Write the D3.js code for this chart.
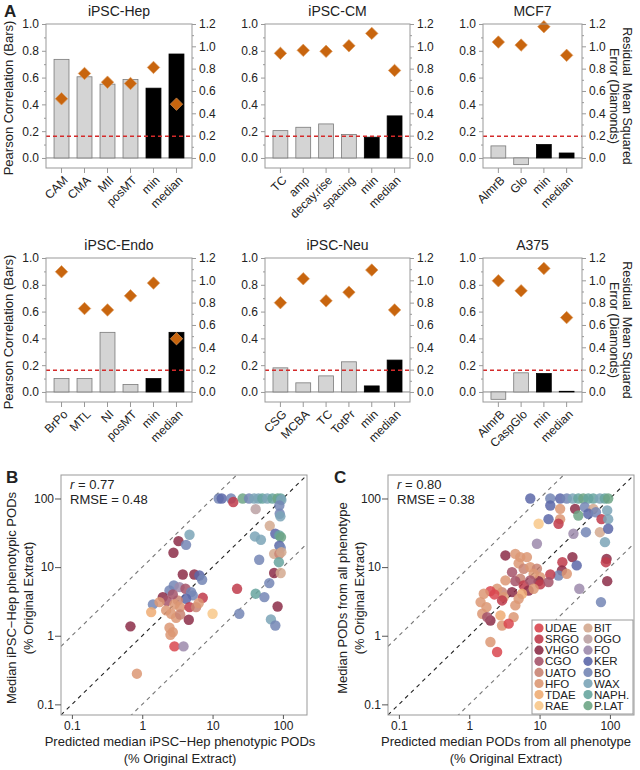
<!DOCTYPE html>
<html><head><meta charset="utf-8">
<script src="https://cdn.jsdelivr.net/npm/d3@7"></script>
<style>
body{margin:0;background:#fff}
text{font-family:"Liberation Sans",Arial,Helvetica,sans-serif;fill:#222}
</style>
</head><body>
<svg id="chart" width="640" height="770"></svg>
<script>
// ---------------- DATA ----------------
const corrThreshold = 0.162;

const hepCats = ["CAM","CMA","MII","posMT","min","median"];
const hepCorr = [0.736, 0.606, 0.551, 0.586, 0.521, 0.776];
const hepRmse = [0.53, 0.757, 0.679, 0.667, 0.811, 0.482];

const cmCats = ["TC","amp","decay.rise","spacing","min","median"];
const cmCorr = [0.204, 0.229, 0.254, 0.175, 0.155, 0.314];
const cmRmse = [0.937, 0.964, 0.955, 1.005, 1.116, 0.784];

const mcf7Cats = ["AlmrB","Glo","min","median"];
const mcf7Corr = [0.09, -0.05, 0.10, 0.037];
const mcf7Rmse = [1.038, 1.011, 1.176, 0.919];

const endoCats = ["BrPo","MTL","NI","posMT","min","median"];
const endoCorr = [0.10, 0.10, 0.445, 0.055, 0.10, 0.445];
const endoRmse = [1.077, 0.747, 0.735, 0.861, 0.975, 0.477];

const neuCats = ["CSG","MCBA","TC","TotPr","min","median"];
const neuCorr = [0.18, 0.068, 0.12, 0.225, 0.045, 0.238];
const neuRmse = [0.80, 1.014, 0.816, 0.894, 1.092, 0.735];

const a375Cats = ["AlmrB","CaspGlo","min","median"];
const a375Corr = [-0.055, 0.143, 0.138, 0.005];
const a375Rmse = [0.996, 0.906, 1.107, 0.666];

const corrTicks = [0, 0.2, 0.4, 0.6, 0.8, 1.0];
const rmseTicks = [0, 0.2, 0.4, 0.6, 0.8, 1.0, 1.2];
const logTicks = [0.1, 1, 10, 100];

const groupNames = ["UDAE","SRGO","VHGO","CGO","UATO","HFO","TDAE","RAE",
                    "BIT","OGO","FO","KER","BO","WAX","NAPH.","P.LAT"];
const groupColors = ["#d9464f","#bf3b4b","#8c2d48","#a5546a","#c98473","#dc9874","#eeac73","#f8c88a",
                     "#d4a98f","#bba1a3","#9c8aac","#5c67a8","#7486b5","#7ba4b7","#67a59f","#6da585"];

const statsB = {r:"0.77", rmse:"0.48"};
const statsC = {r:"0.80", rmse:"0.38"};

// [predicted, observed, group]
const scatterB = [
 [12.2,100,"BO"],[13.5,100,"KER"],[18.3,100,"BO"],[19.7,89,"SRGO"],[26.8,100,"P.LAT"],[33,100,"BO"],
 [39,100,"WAX"],[45,100,"WAX"],[51,100,"NAPH."],[41,70,"OGO"],[60,100,"WAX"],[71,100,"NAPH."],
 [84,100,"P.LAT"],[93,100,"NAPH."],[95,95,"WAX"],[89,79,"BO"],[90,60,"BO"],[92,55,"WAX"],
 [65,40,"BIT"],[78,30.6,"KER"],[89,28.9,"NAPH."],[94,27.4,"P.LAT"],[40,28,"WAX"],[48.7,25,"WAX"],
 [89,20.6,"KER"],[93,19.1,"BO"],[75,15.6,"BIT"],[89,15.6,"UATO"],[95,16.5,"BIT"],[87.6,11.8,"NAPH."],
 [46,12.8,"BO"],[75,8.2,"VHGO"],[93,8.2,"BIT"],[64,5.85,"BO"],[41,4.1,"NAPH."],[54.5,3.66,"BO"],
 [84,2.67,"VHGO"],[67.5,1.73,"WAX"],[78,1.41,"BO"],[24,2.09,"BO"],[22.3,4.83,"SRGO"],[10,2.09,"RAE"],
 [4.7,29.6,"WAX"],[3.28,23.9,"VHGO"],[4.2,21.1,"BO"],[2.78,16.2,"VHGO"],
 [3.77,7.8,"VHGO"],[5.5,7.8,"VHGO"],[6.5,7.56,"KER"],[7.1,6.54,"BO"],[2.81,5.41,"BO"],[2.44,4.57,"BO"],
 [3.39,5.11,"FO"],[4.12,4.84,"CGO"],[4.95,4.32,"BO"],[5.23,3.87,"BO"],[4.2,3.46,"KER"],[3.2,3.27,"UATO"],
 [1.96,3.66,"VHGO"],[2.24,3.2,"CGO"],[2.72,4.0,"CGO"],[1.42,2.86,"BO"],[1.76,3.09,"HFO"],[2.87,2.86,"HFO"],
 [3.46,2.61,"HFO"],[4.7,2.61,"SRGO"],[5.83,2.61,"UATO"],[7.25,3.57,"SRGO"],[6.36,2.99,"HFO"],
 [1.34,2.21,"TDAE"],[2.19,2.34,"HFO"],[2.58,2.09,"HFO"],[3.03,1.83,"HFO"],[3.46,2.04,"UATO"],
 [4.59,1.71,"VHGO"],[2.44,1.31,"HFO"],[2.72,1.13,"HFO"],[2.52,1.03,"HFO"],[0.68,1.37,"VHGO"],
 [2.87,0.70,"UDAE"],[3.86,0.70,"FO"],[0.84,0.28,"HFO"]
];

const scatterC = [
 [7.38,100,"KER"],[14.2,100,"BO"],[14.2,79,"KER"],[19.6,100,"KER"],[24.4,100,"BO"],[29.6,100,"WAX"],
 [35.6,100,"NAPH."],[41.9,100,"P.LAT"],[49.3,100,"NAPH."],[58,100,"NAPH."],[72,100,"WAX"],
 [84.6,100,"NAPH."],[94.5,100,"P.LAT"],[19.6,70.6,"HFO"],[32,70.6,"VHGO"],[44,74.8,"BO"],[58,70.6,"BIT"],
 [35.6,56.5,"P.LAT"],[49.3,60,"KER"],[63.2,63,"BO"],[76,50,"SRGO"],[94.5,50,"WAX"],[91.5,67,"WAX"],
 [13.4,50,"KER"],[19.6,50,"HFO"],[18.6,42.8,"SRGO"],[9.7,42.8,"RAE"],[30.3,30.6,"FO"],[45.6,32.3,"BO"],
 [72,32.3,"BIT"],[94.5,36.2,"KER"],[85,23.1,"WAX"],[9.17,21.9,"FO"],[89.7,13.2,"VHGO"],[87.6,11.8,"SRGO"],
 [29.3,14,"VHGO"],[33.7,10.6,"KER"],[21.1,11.8,"SRGO"],[20.8,8.94,"VHGO"],[18.6,7.56,"BO"],[24.4,8,"HFO"],
 [91.5,6.25,"VHGO"],[36.7,4.84,"FO"],[74.6,3.09,"BO"],
 [3.27,14.8,"VHGO"],[4.52,15.6,"HFO"],[5.32,14,"HFO"],[6.61,14,"HFO"],[5.04,11.4,"HFO"],[5.94,9.46,"UATO"],
 [7.37,10,"HFO"],[9.17,9.46,"UATO"],[10.2,7.15,"HFO"],[9.7,6.25,"VHGO"],[10.2,5.6,"SRGO"],[14.2,7.8,"SRGO"],
 [13.4,6.05,"CGO"],[8.24,8,"HFO"],[4.06,8.45,"CGO"],[5.32,6.76,"UATO"],[4.52,6.25,"CGO"],[3.27,6.4,"HFO"],
 [5.94,5.41,"SRGO"],[7.37,6.4,"CGO"],[6.98,4.57,"VHGO"],[8.24,4.84,"HFO"],[5.63,4.09,"TDAE"],
 [4.06,4.32,"VHGO"],[2.93,4.32,"UATO"],[2.49,4.84,"HFO"],[2.0,4.47,"UDAE"],[2.28,4.0,"UDAE"],
 [3.09,3.66,"HFO"],[5.04,3.46,"HFO"],[4.52,2.77,"HFO"],[2.93,3.27,"SRGO"],[1.61,4.09,"HFO"],
 [1.45,3.09,"HFO"],[1.76,2.61,"HFO"],[4.28,1.87,"HFO"],[2.78,1.98,"TDAE"],[1.53,2.09,"HFO"],
 [2.0,1.67,"VHGO"],[1.8,1.87,"CGO"],[2.93,1.41,"HFO"],[3.64,1.5,"UDAE"],[2.0,0.81,"HFO"],[2.49,0.58,"UDAE"]
];

// ---------------- DRAW ----------------
const svg = d3.select("#chart");
const color = d3.scaleOrdinal().domain(groupNames).range(groupColors);
const frameCol = "#999";

function barPanel(cfg) {
  const g = svg.append("g");
  const h = 144;
  const top = cfg.top, bottom = top + h;
  const yL = d3.scaleLinear().domain([-0.075, 1]).range([bottom, top]);
  const yR = d3.scaleLinear().domain([-0.09, 1.2]).range([bottom, top]);
  const x = d3.scaleBand().domain(cfg.cats).range([cfg.x0, cfg.x1]).paddingInner(0.35).paddingOuter(0.35);

  g.append("line").attr("x1", cfg.x0).attr("x2", cfg.x1)
    .attr("y1", yL(0)).attr("y2", yL(0)).attr("stroke", "#888").attr("stroke-width", 1);

  g.selectAll("rect.bar").data(cfg.cats).join("rect").attr("class","bar")
    .attr("x", d => x(d)).attr("width", x.bandwidth())
    .attr("y", (d,i) => yL(Math.max(0, cfg.corr[i])))
    .attr("height", (d,i) => Math.abs(yL(cfg.corr[i]) - yL(0)))
    .attr("fill", d => (d === "min" || d === "median") ? "#000" : "#d4d4d4")
    .attr("stroke", d => (d === "min" || d === "median") ? "#000" : "#7a7a7a")
    .attr("stroke-width", 0.8);

  g.append("line").attr("x1", cfg.x0).attr("x2", cfg.x1)
    .attr("y1", yL(corrThreshold)).attr("y2", yL(corrThreshold))
    .attr("stroke", "#d42a2a").attr("stroke-width", 1.6).attr("stroke-dasharray", "4,3");

  const sym = d3.symbol().type(d3.symbolSquare).size(78);
  g.selectAll("path.dia").data(cfg.cats).join("path").attr("class","dia")
    .attr("d", sym)
    .attr("transform", (d,i) => `translate(${x(d)+x.bandwidth()/2},${yR(cfg.rmse[i])}) rotate(45)`)
    .attr("fill", "#c8650e").attr("stroke", "#dc9a5e").attr("stroke-width", 0.6);

  g.append("rect").attr("x", cfg.x0).attr("y", top).attr("width", cfg.x1 - cfg.x0).attr("height", h)
    .attr("fill", "none").attr("stroke", frameCol).attr("stroke-width", 1);

  const la = g.append("g").attr("transform", `translate(${cfg.x0},0)`)
    .call(d3.axisLeft(yL).tickValues(corrTicks).tickFormat(d3.format(".1f")).tickSize(4).tickPadding(3));
  const lm = g.append("g").attr("transform", `translate(${cfg.x0},0)`)
    .call(d3.axisLeft(yL).tickValues([0.1,0.3,0.5,0.7,0.9]).tickFormat("").tickSize(2));
  const ra = g.append("g").attr("transform", `translate(${cfg.x1},0)`)
    .call(d3.axisRight(yR).tickValues(rmseTicks).tickFormat(d3.format(".1f")).tickSize(4).tickPadding(3));
  const rm = g.append("g").attr("transform", `translate(${cfg.x1},0)`)
    .call(d3.axisRight(yR).tickValues([0.1,0.3,0.5,0.7,0.9,1.1]).tickFormat("").tickSize(2));
  const ba = g.append("g").attr("transform", `translate(0,${bottom})`)
    .call(d3.axisBottom(x).tickSize(5));
  ba.selectAll("text").attr("x", 0).attr("y", 0).attr("dy", "0.35em")
    .attr("transform", "translate(4,10) rotate(-45)").style("text-anchor", "end");

  [la, lm, ra, rm, ba].forEach(a => {
    a.select(".domain").remove();
    a.selectAll(".tick line").attr("stroke", frameCol);
    a.selectAll("text").attr("font-size", 12).attr("fill", "#222")
      .attr("font-family", '"Liberation Sans",Arial,sans-serif');
  });

  g.append("text").attr("x", (cfg.x0 + cfg.x1) / 2).attr("y", top - 8.5)
    .attr("text-anchor", "middle").attr("font-size", 14).text(cfg.title);

  if (cfg.leftTitle) {
    g.append("text").attr("transform", `translate(13,${top + 74}) rotate(-90)`)
      .attr("text-anchor", "middle").attr("font-size", 13).text("Pearson Correlation (Bars)");
  }
  if (cfg.rightTitle) {
    const t = g.append("text").attr("transform", `translate(623,${top + 72}) rotate(90)`)
      .attr("text-anchor", "middle").attr("font-size", 12.5);
    t.append("tspan").attr("x", 0).attr("dy", 0).text("Residual\u00a0\u00a0Mean Squared");
    t.append("tspan").attr("x", 0).attr("dy", "1.05em").text("Error (Diamonds)");
  }
}

const rowTops = [24, 258];
const colX = [[46,192],[265,410],[483,582]];
barPanel({title:"iPSC-Hep", cats:hepCats, corr:hepCorr, rmse:hepRmse, x0:colX[0][0], x1:colX[0][1], top:rowTops[0], leftTitle:true});
barPanel({title:"iPSC-CM", cats:cmCats, corr:cmCorr, rmse:cmRmse, x0:colX[1][0], x1:colX[1][1], top:rowTops[0]});
barPanel({title:"MCF7", cats:mcf7Cats, corr:mcf7Corr, rmse:mcf7Rmse, x0:colX[2][0], x1:colX[2][1], top:rowTops[0], rightTitle:true});
barPanel({title:"iPSC-Endo", cats:endoCats, corr:endoCorr, rmse:endoRmse, x0:colX[0][0], x1:colX[0][1], top:rowTops[1], leftTitle:true});
barPanel({title:"iPSC-Neu", cats:neuCats, corr:neuCorr, rmse:neuRmse, x0:colX[1][0], x1:colX[1][1], top:rowTops[1]});
barPanel({title:"A375", cats:a375Cats, corr:a375Corr, rmse:a375Rmse, x0:colX[2][0], x1:colX[2][1], top:rowTops[1], rightTitle:true});

svg.append("text").attr("x", 4).attr("y", 17).attr("font-size", 17).attr("font-weight", "bold").text("A");

function scatterPanel(cfg) {
  const g = svg.append("g");
  const w = 246, h = 240;
  const xs = d3.scaleLog().domain([0.07, 220]).range([cfg.x0, cfg.x0 + w]);
  const ys = d3.scaleLog().domain([0.07, 220]).range([cfg.y0 + h, cfg.y0]);
  const clipId = "clip" + cfg.letter;
  svg.append("clipPath").attr("id", clipId).append("rect")
    .attr("x", cfg.x0).attr("y", cfg.y0).attr("width", w).attr("height", h);
  const inner = g.append("g").attr("clip-path", `url(#${clipId})`);
  const dom = xs.domain();
  [[10, "#777"], [0.1, "#777"], [1, "#222"]].forEach(([k, c]) => {
    inner.append("line")
      .attr("x1", xs(dom[0])).attr("y1", ys(dom[0] * k))
      .attr("x2", xs(dom[1])).attr("y2", ys(dom[1] * k))
      .attr("stroke", c).attr("stroke-width", 1.1).attr("stroke-dasharray", "4,4");
  });
  inner.selectAll("circle").data(cfg.data).join("circle")
    .attr("cx", d => xs(d[0])).attr("cy", d => ys(d[1])).attr("r", 5.2)
    .attr("fill", d => color(d[2])).attr("fill-opacity", 0.85);

  g.append("rect").attr("x", cfg.x0).attr("y", cfg.y0).attr("width", w).attr("height", h)
    .attr("fill", "none").attr("stroke", frameCol).attr("stroke-width", 1);

  const fmt = d => d3.format("~g")(d);
  const la = g.append("g").attr("transform", `translate(${cfg.x0},0)`)
    .call(d3.axisLeft(ys).tickValues(logTicks).tickFormat(fmt).tickSize(6).tickPadding(1));
  const ba = g.append("g").attr("transform", `translate(0,${cfg.y0 + h})`)
    .call(d3.axisBottom(xs).tickValues(logTicks).tickFormat(fmt).tickSize(4).tickPadding(2));
  [la, ba].forEach(a => {
    a.select(".domain").remove();
    a.selectAll(".tick line").attr("stroke", "#555");
    a.selectAll("text").attr("font-size", 12).attr("fill", "#222")
      .attr("font-family", '"Liberation Sans",Arial,sans-serif');
  });

  const t1 = g.append("text").attr("x", cfg.x0 + 9).attr("y", cfg.y0 + 14).attr("font-size", 13);
  t1.append("tspan").attr("font-style", "italic").text("r");
  t1.append("tspan").text(" = " + cfg.stats.r);
  g.append("text").attr("x", cfg.x0 + 9).attr("y", cfg.y0 + 29).attr("font-size", 13)
    .text("RMSE = " + cfg.stats.rmse);

  const cx = cfg.x0 + w / 2 + cfg.xTitleShift;
  g.append("text").attr("x", cx).attr("y", 746).attr("text-anchor", "middle").attr("font-size", 13).text(cfg.xTitle);
  g.append("text").attr("x", cx).attr("y", 763).attr("text-anchor", "middle").attr("font-size", 13).text("(% Original Extract)");
  const cy = cfg.y0 + h / 2 + 3;
  g.append("text").attr("transform", `translate(${cfg.yTitleX},${cy}) rotate(-90)`)
    .attr("text-anchor", "middle").attr("font-size", 13).text(cfg.yTitle);
  g.append("text").attr("transform", `translate(${cfg.yTitleX + 17},${cy}) rotate(-90)`)
    .attr("text-anchor", "middle").attr("font-size", 13).text("(% Original Extract)");

  svg.append("text").attr("x", cfg.letterX).attr("y", cfg.y0 + 8).attr("font-size", 17)
    .attr("font-weight", "bold").text(cfg.letter);

  if (cfg.legend) {
    const lx = cfg.x0 + w - 102, ly = cfg.y0 + h - 95;
    const lg = g.append("g");
    lg.append("rect").attr("x", lx).attr("y", ly).attr("width", 101).attr("height", 94)
      .attr("fill", "#fff").attr("stroke", frameCol).attr("stroke-width", 1);
    const items = lg.selectAll("g.item").data(groupNames).join("g").attr("class", "item")
      .attr("transform", (d, i) => `translate(${lx + 7 + Math.floor(i / 8) * 49},${ly + 8 + (i % 8) * 11.1})`);
    items.append("circle").attr("r", 4.6).attr("fill", d => color(d)).attr("fill-opacity", 0.9);
    items.append("text").attr("x", 6).attr("dy", "0.36em").attr("font-size", 11.5).text(d => d);
  }
}

scatterPanel({letter:"B", letterX:6, data:scatterB, x0:61, y0:475, stats:statsB,
  xTitle:"Predicted median iPSC\u2212Hep phenotypic PODs", xTitleShift:-4,
  yTitle:"Median iPSC\u2212Hep phenotypic PODs", yTitleX:15.5});
scatterPanel({letter:"C", letterX:334, data:scatterC, x0:388, y0:475, stats:statsC,
  xTitle:"Predicted median PODs from all phenotype", xTitleShift:-5,
  yTitle:"Median PODs from all phenotype", yTitleX:346.5, legend:true});
</script>
</body></html>
